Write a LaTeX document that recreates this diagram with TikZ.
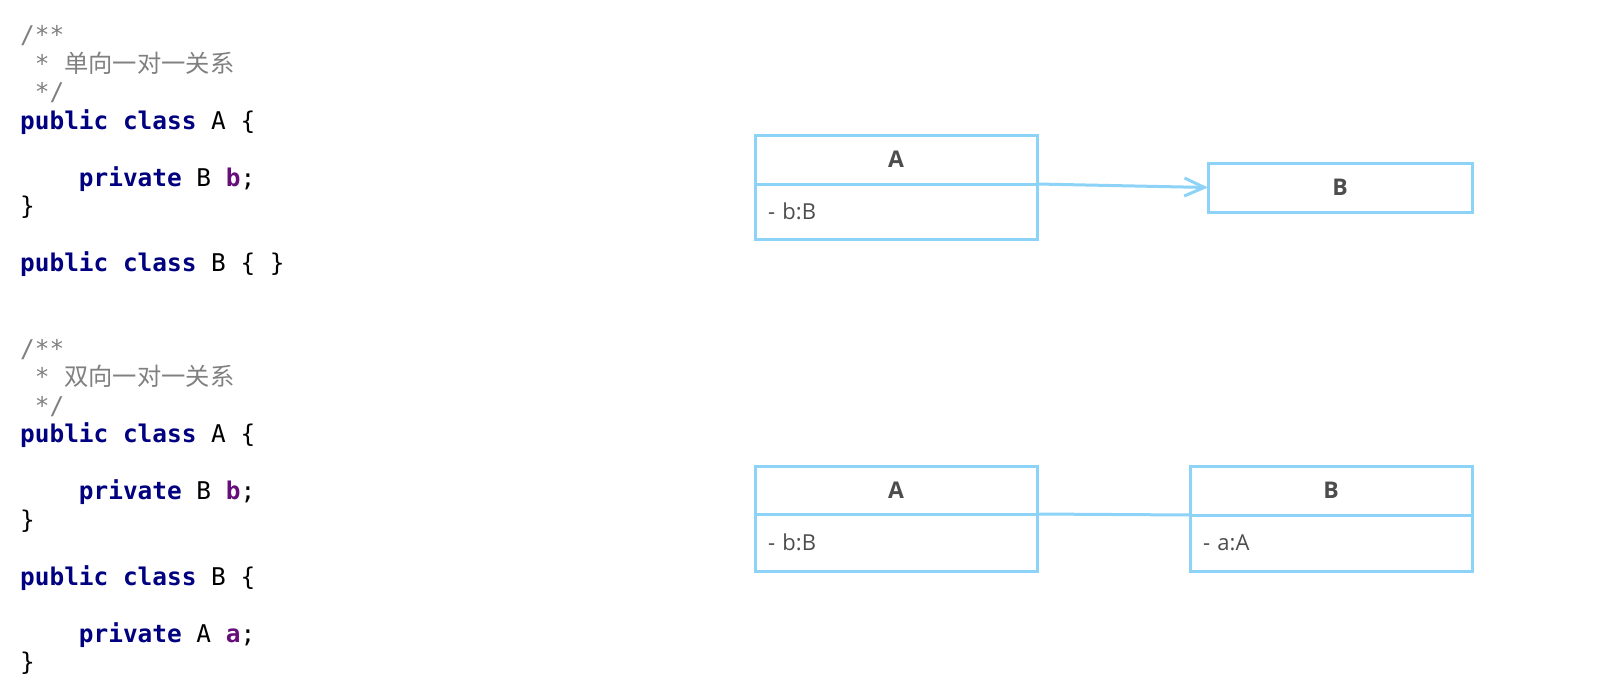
\documentclass[tikz,border=0pt]{standalone}
\usepackage{fontspec}
\usetikzlibrary{arrows.meta,positioning}
\setmainfont{Open Sans}
\newfontfamily\codefont{DejaVu Sans Mono}
\newfontfamily\cjkfont{Noto Sans CJK SC}
\definecolor{umlblue}{HTML}{8DD3F8}
\definecolor{umltext}{HTML}{4D4D4D}
\definecolor{kwblue}{HTML}{000080}
\definecolor{fldpurple}{HTML}{660E7A}
\definecolor{cmtgrey}{HTML}{808080}
\newcommand{\kw}[1]{\textbf{\color{kwblue}#1}}
\newcommand{\fld}[1]{\textbf{\color{fldpurple}#1}}
\newcommand{\zh}[1]{{\cjkfont\fontsize{24.3}{28}\selectfont #1}}

\begin{document}
\begin{tikzpicture}[x=1pt,y=-1pt,
  code/.style={anchor=base west,inner sep=0pt,font=\codefont\fontsize{24.4}{28}\selectfont},
  cmt/.style={code,text=cmtgrey},
  head/.style={draw=umlblue,line width=3pt,outer sep=0pt,inner sep=0pt,minimum height=49pt,text=umltext,font=\fontsize{23}{27}\selectfont\bfseries},
  attr/.style={draw=umlblue,line width=3pt,outer sep=0pt,inner xsep=13pt,inner ysep=0pt,text width=256pt,align=left,text=umltext,font=\fontsize{22}{26}\selectfont},
  assoc/.style={draw=umlblue,line width=3pt}]
\useasboundingbox (0,0) rectangle (1600,696);
% code, one-to-one (one way)
\node[cmt] (l0) at (20,43.5) {/**};
\node[cmt] (l1) at (20,72) {\ *\ \zh{单向一对一关系}};
\node[cmt] (l2) at (20,100.5) {\ */};
\node[code] (l3) at (20,129) {\kw{public} \kw{class} A \{};
\node[code] (l5) at (20,186) {\ \ \ \ \kw{private} B \fld{b};};
\node[code] (l6) at (20,214.5) {\}};
\node[code] (l8) at (20,271.5) {\kw{public} \kw{class} B \{ \}};
% code, one-to-one (both ways)
\node[cmt] (l11) at (20,357) {/**};
\node[cmt] (l12) at (20,385.5) {\ *\ \zh{双向一对一关系}};
\node[cmt] (l13) at (20,414) {\ */};
\node[code] (l14) at (20,442.5) {\kw{public} \kw{class} A \{};
\node[code] (l16) at (20,499.5) {\ \ \ \ \kw{private} B \fld{b};};
\node[code] (l17) at (20,528) {\}};
\node[code] (l19) at (20,585) {\kw{public} \kw{class} B \{};
\node[code] (l21) at (20,642) {\ \ \ \ \kw{private} A \fld{a};};
\node[code] (l22) at (20,670.5) {\}};
% classes
\node[head,anchor=north west,minimum width=282pt] (A1) at (755,135) {A};
\node[attr,minimum height=55pt,below=0pt of A1] (A1f) {- b:B};
\node[head,anchor=north west,minimum width=264pt] (B1) at (1208,163) {B};
\node[head,anchor=north west,minimum width=282pt,minimum height=48pt] (A2) at (755,466) {A};
\node[attr,minimum height=57pt,below=0pt of A2] (A2f) {- b:B};
\node[head,anchor=north west,minimum width=282pt] (B2) at (1190,466) {B};
\node[attr,minimum height=56pt,below=0pt of B2] (B2f) {- a:A};
% associations
\draw[assoc,-{Straight Barb[length=20pt,width=18pt]}] (A1.south east) -- (B1.west);
\draw[assoc] (A2.south east) -- (B2.south west);
\end{tikzpicture}
\end{document}
